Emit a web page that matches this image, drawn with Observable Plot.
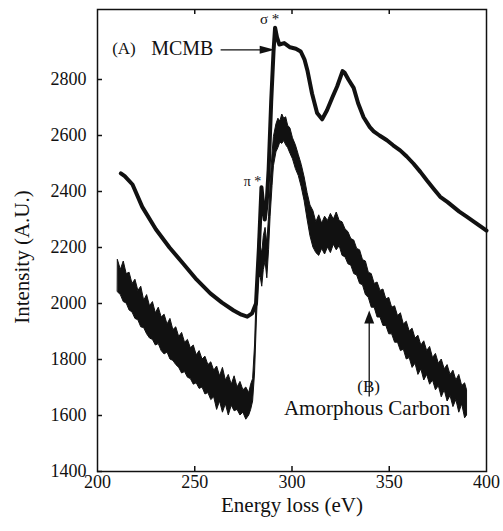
<!DOCTYPE html>
<html>
<head>
<meta charset="utf-8">
<script src="https://cdn.jsdelivr.net/npm/d3@7"></script>
<script src="https://cdn.jsdelivr.net/npm/@observablehq/plot@0.6"></script>
<style>
  html, body { margin: 0; padding: 0; background: #fff; }
  #chart svg { display: block; }
  #chart svg, #chart svg text { font-family: "Liberation Serif", "DejaVu Serif", "Times New Roman", Times, serif !important; }
</style>
</head>
<body>
<div id="chart"></div>
<script>
// ---- Data ----
// Curve (A) MCMB
const aEnergy = [212, 214, 218, 223, 230, 237, 244, 251, 258, 264, 270, 274, 277, 279.5, 281.5, 283, 284.3, 285.2, 286, 287, 288, 289.3, 290.5, 291.3, 292.3, 293.5, 296, 299, 302, 304.5, 306.5, 308, 310.3, 312.9, 315.5, 318, 321, 323.2, 326, 327, 329, 331.7, 334, 336.8, 340, 342, 345, 348.8, 352, 355.6, 359, 362.4, 366, 369.3, 373, 376.2, 380, 383, 386, 389.8, 394, 398.4, 400];
const aIntensity = [2465, 2455, 2425, 2345, 2265, 2200, 2143, 2085, 2036, 2003, 1975, 1960, 1953, 1965, 2000, 2200, 2415, 2350, 2300, 2360, 2480, 2720, 2900, 2985, 2950, 2925, 2930, 2915, 2910, 2900, 2870, 2830, 2750, 2680, 2658, 2690, 2740, 2775, 2830, 2825, 2800, 2770, 2715, 2665, 2630, 2615, 2600, 2583, 2565, 2547, 2525, 2500, 2470, 2440, 2408, 2381, 2362, 2345, 2328, 2310, 2290, 2268, 2260];

// Curve (B) Amorphous Carbon: noisy band, lower / upper envelope (spikes estimated)
const bEnergy = [210.5, 212, 213.5, 215, 216.5, 218, 219.5, 221, 222.5, 224, 225.5, 227, 228.5, 230, 231.5, 233, 234.5, 236, 237.5, 239, 240.5, 242, 243.5, 245, 246.5, 248, 249.5, 251, 252.5, 254, 255.5, 257, 258.5, 260, 261.5, 263, 264.5, 266, 267.5, 269, 270.5, 272, 273.5, 275, 276.5, 278, 279, 280, 281, 282, 283, 284, 284.7, 285.5, 286.4, 287.3, 288.2, 289, 290, 290.7, 292, 293, 294, 295, 296, 297, 298, 299.2, 300.5, 302, 303.5, 305, 306.5, 308, 309.5, 311, 312.5, 314, 315.5, 317, 318.5, 320, 321.5, 323, 324.5, 326, 327.5, 329, 330.5, 332, 333.5, 335, 336.5, 338, 339.5, 341, 342.5, 344, 345.5, 347, 348.5, 350, 351.5, 353, 354.5, 356, 357.5, 359, 360.5, 362, 363.5, 365, 366.5, 368, 369.5, 371, 372.5, 374, 375.5, 377, 378.5, 380, 381.5, 383, 384.5, 386, 387.5, 389, 390];
const bLow = [2040, 2030, 2005, 2000, 1975, 1968, 1945, 1940, 1915, 1912, 1890, 1875, 1870, 1850, 1855, 1830, 1818, 1825, 1800, 1795, 1780, 1770, 1750, 1755, 1735, 1730, 1710, 1715, 1695, 1700, 1675, 1680, 1655, 1665, 1620, 1650, 1610, 1640, 1600, 1635, 1615, 1620, 1600, 1610, 1585, 1600, 1620, 1650, 1750, 1950, 2100, 2090, 2060, 2120, 2150, 2090, 2190, 2310, 2420, 2490, 2540, 2555, 2575, 2570, 2580, 2565, 2555, 2535, 2515, 2480, 2455, 2415, 2365, 2300, 2240, 2200, 2180, 2170, 2195, 2175, 2200, 2180, 2210, 2190, 2205, 2170, 2165, 2140, 2135, 2105, 2100, 2070, 2065, 2030, 2020, 1985, 1985, 1950, 1950, 1920, 1920, 1890, 1890, 1860, 1860, 1830, 1835, 1800, 1805, 1770, 1785, 1745, 1765, 1725, 1745, 1710, 1725, 1690, 1705, 1665, 1690, 1650, 1670, 1630, 1655, 1610, 1640, 1590, 1600];
const bHigh = [2155, 2120, 2150, 2105, 2110, 2070, 2085, 2045, 2060, 2010, 2030, 1990, 2005, 1965, 1985, 1950, 1960, 1925, 1945, 1905, 1915, 1880, 1895, 1860, 1870, 1840, 1850, 1815, 1830, 1800, 1810, 1780, 1790, 1760, 1775, 1740, 1770, 1725, 1745, 1710, 1740, 1700, 1720, 1690, 1700, 1680, 1710, 1730, 1850, 2070, 2230, 2200, 2180, 2240, 2270, 2215, 2310, 2430, 2535, 2595, 2640, 2660, 2650, 2675, 2660, 2665, 2635, 2625, 2590, 2565, 2530, 2495, 2450, 2395, 2350, 2330, 2290, 2315, 2285, 2310, 2295, 2320, 2300, 2325, 2295, 2290, 2265, 2255, 2230, 2225, 2195, 2190, 2155, 2150, 2110, 2105, 2070, 2075, 2045, 2050, 2015, 2020, 1985, 1990, 1955, 1965, 1925, 1935, 1900, 1910, 1875, 1885, 1850, 1865, 1830, 1845, 1805, 1820, 1785, 1800, 1765, 1780, 1745, 1760, 1725, 1745, 1705, 1715, 1690];

// Axis ticks
const xTicks = [200, 250, 300, 350, 400];
const xInnerTicks = [250, 300, 350];
const yTicks = [1400, 1600, 1800, 2000, 2200, 2400, 2600, 2800];

// Annotations (data coordinates)
const labelTexts = ["σ *", "π *", "(A)", "MCMB", "(B)", "Amorphous Carbon"];
const labelX = [288.5, 279.7, 213.6, 243.6, 339.4, 338.6];
const labelY = [3017, 2437, 2910, 2910, 1705, 1625];
const labelSize = [15, 14, 17, 20, 17, 21];

// Axis titles (data coordinates, outside the frame)
const xTitle = {t: "Energy loss (eV)", x: 300, y: 1279};
const yTitle = {t: "Intensity (A.U.)", x: 161.5, y: 2166};

// Arrows: shafts and heads
const arrowA = {x1: 263.3, y1: 2906, x2: 287, y2: 2906};
const arrowB = {x1: 339.7, y1: 1668, x2: 339.7, y2: 1950};

// ---- Build tables ----
const aData = aEnergy.map((e, i) => ({e, v: aIntensity[i]}));
const bData = bEnergy.map((e, i) => ({e, lo: bLow[i], hi: bHigh[i]}));
const labels = labelTexts.map((t, i) => ({t, x: labelX[i], y: labelY[i], s: labelSize[i]}));

const longTriangle = {
  draw(ctx) { ctx.moveTo(0, -8); ctx.lineTo(4, 7); ctx.lineTo(-4, 7); ctx.closePath(); }
};
const wideTriangle = {
  draw(ctx) { ctx.moveTo(0, -7); ctx.lineTo(5, 6); ctx.lineTo(-5, 6); ctx.closePath(); }
};

const W = 503, H = 531;
const mL = 97, mR = 17, mT = 9, mB = 60;
const plotW = W - mL - mR, plotH = H - mT - mB;
const ink = "#111";
const serif = "'Liberation Serif', 'DejaVu Serif', serif";

const chart = Plot.plot({
  width: W,
  height: H,
  marginLeft: mL,
  marginRight: mR,
  marginTop: mT,
  marginBottom: mB,
  style: {fontSize: "18px", fontFamily: serif, color: ink, background: "#fff"},
  x: {domain: [200, 400]},
  y: {domain: [1400, 3050]},
  marks: [
    // curve B band
    Plot.areaY(bData, {x: "e", y1: "lo", y2: "hi", fill: ink, stroke: ink, strokeWidth: 1}),
    // curve A
    Plot.line(aData, {x: "e", y: "v", stroke: ink, strokeWidth: 4, strokeLinejoin: "round"}),
    // frame & inward ticks
    Plot.frame({stroke: ink, strokeWidth: 1.5}),
    Plot.tickY(yTicks, {stroke: ink, strokeWidth: 1.5, insetRight: plotW - 5}),
    Plot.tickX(xInnerTicks, {stroke: ink, strokeWidth: 1.5, insetTop: plotH - 5}),
    Plot.tickX(xInnerTicks, {stroke: ink, strokeWidth: 1.5, insetBottom: plotH - 5}),
    // axes
    Plot.axisX(xTicks, {tickSize: 0, tickPadding: 4, label: null, fontSize: 18, fontFamily: serif, tickFormat: d3.format("d")}),
    Plot.axisY(yTicks, {tickSize: 0, tickPadding: 11, label: null, fontSize: 18, fontFamily: serif, tickFormat: d3.format("d")}),
    // axis titles
    Plot.text([xTitle], {x: "x", y: "y", text: "t", fontSize: 21, fontFamily: serif, fill: ink, textAnchor: "middle", lineAnchor: "middle"}),
    Plot.text([yTitle], {x: "x", y: "y", text: "t", rotate: -90, fontSize: 21, fontFamily: serif, fill: ink, textAnchor: "middle", lineAnchor: "middle"}),
    // annotations
    Plot.text(labels, {x: "x", y: "y", text: "t", fontSize: d => d.s, fontFamily: serif, fill: ink}),
    Plot.link([arrowA], {x1: "x1", y1: "y1", x2: "x2", y2: "y2", stroke: ink, strokeWidth: 1.3}),
    Plot.dot([arrowA], {x: "x2", y: "y2", symbol: longTriangle, rotate: 90, fill: ink, stroke: null}),
    Plot.link([arrowB], {x1: "x1", y1: "y1", x2: "x2", y2: "y2", stroke: ink, strokeWidth: 1.3}),
    Plot.dot([arrowB], {x: "x2", y: "y2", symbol: wideTriangle, fill: ink, stroke: null})
  ]
});
document.getElementById("chart").append(chart);
</script>
</body>
</html>
